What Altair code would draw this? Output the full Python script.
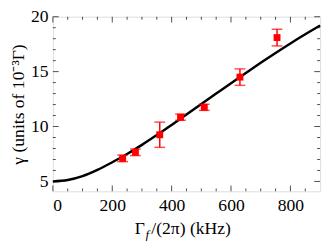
import altair as alt
import pandas as pd

# measured data points
px = [235, 278, 360, 430, 510, 630, 755]
py = [7.1, 7.65, 9.25, 10.85, 11.75, 14.5, 18.1]
perr = [0.3, 0.3, 1.15, 0.28, 0.28, 0.75, 0.76]

# theory curve
cx = [0, 50, 100, 150, 200, 250, 300, 350, 400, 450, 500, 550, 600, 650, 700, 750, 800, 850, 900]
cy = [5.0, 5.13, 5.48, 6.05, 6.75, 7.5, 8.33, 9.22, 10.15, 11.1, 12.05, 13.0, 13.95, 14.88, 15.8, 16.7, 17.57, 18.4, 19.2]

x_major = [0, 200, 400, 600, 800]
x_minor = [v for v in range(50, 900, 50) if v not in x_major]
y_major = [5, 10, 15, 20]
y_minor = [v for v in range(5, 20) if v not in y_major]

y_title = ["γ (units of 10⁻³Γ)"]
x_title_main = ["Γ"]
x_title_sub = ["f"]
x_title_rest = ["/(2π) (kHz)"]

W, H = 274, 179
FONT = "Liberation Serif"

xs = alt.Scale(domain=[0, 900], nice=False, zero=False)
ys = alt.Scale(domain=[4.1, 20], nice=False, zero=False)

pts = pd.DataFrame({"x": px, "y": py, "lo": [a - b for a, b in zip(py, perr)], "hi": [a + b for a, b in zip(py, perr)]})
curve = pd.DataFrame({"x": cx, "y": cy})

xaxis = alt.Axis(values=x_major, ticks=False, domain=False, grid=False, labelFont=FONT, labelFontSize=18,
                 labelColor="black", labelPadding=6, title=None)
yaxis = alt.Axis(values=y_major, ticks=False, domain=False, grid=False, labelFont=FONT, labelFontSize=18,
                 labelColor="black", labelPadding=5, title=None)

line = alt.Chart(curve).mark_line(color="black", strokeWidth=2.5, interpolate="monotone").encode(
    x=alt.X("x:Q", scale=xs, axis=xaxis), y=alt.Y("y:Q", scale=ys, axis=yaxis))

bars = alt.Chart(pts).mark_rule(color="red", strokeWidth=1.5).encode(
    x=alt.X("x:Q", scale=xs), y=alt.Y("lo:Q", scale=ys), y2="hi:Q")
cap_hi = alt.Chart(pts).mark_tick(color="red", thickness=1.5, size=11, orient="horizontal").encode(
    x=alt.X("x:Q", scale=xs), y=alt.Y("hi:Q", scale=ys))
cap_lo = alt.Chart(pts).mark_tick(color="red", thickness=1.5, size=11, orient="horizontal").encode(
    x=alt.X("x:Q", scale=xs), y=alt.Y("lo:Q", scale=ys))
sq = alt.Chart(pts).mark_square(color="red", opacity=1, size=50).encode(
    x=alt.X("x:Q", scale=xs), y=alt.Y("y:Q", scale=ys))

def xticks(vals, L):
    d = pd.DataFrame({"v": vals})
    b = alt.Chart(d).mark_tick(color="black", thickness=1, size=L, orient="vertical").encode(
        x=alt.X("v:Q", scale=xs), y=alt.value(H - L / 2))
    t = alt.Chart(d).mark_tick(color="black", thickness=1, size=L, orient="vertical").encode(
        x=alt.X("v:Q", scale=xs), y=alt.value(L / 2))
    return [b, t]

def yticks(vals, L):
    d = pd.DataFrame({"v": vals})
    l = alt.Chart(d).mark_tick(color="black", thickness=1, size=L, orient="horizontal").encode(
        y=alt.Y("v:Q", scale=ys), x=alt.value(L / 2))
    r = alt.Chart(d).mark_tick(color="black", thickness=1, size=L, orient="horizontal").encode(
        y=alt.Y("v:Q", scale=ys), x=alt.value(W - L / 2))
    return [l, r]

ticks = xticks(x_major, 6) + xticks(x_minor, 3) + yticks(y_major, 6) + yticks(y_minor, 3)

yt = alt.Chart(pd.DataFrame({"t": y_title})).mark_text(font=FONT, fontSize=18, angle=270, align="center",
                                                         baseline="middle", color="black").encode(
    text="t:N", x=alt.value(-35), y=alt.value(90))
xt1 = alt.Chart(pd.DataFrame({"t": x_title_main})).mark_text(font=FONT, fontSize=18, align="left",
                                                              baseline="alphabetic", color="black").encode(
    text="t:N", x=alt.value(84), y=alt.value(223))
xt2 = alt.Chart(pd.DataFrame({"t": x_title_sub})).mark_text(font=FONT, fontSize=13, fontStyle="italic", align="left",
                                                             baseline="alphabetic", color="black").encode(
    text="t:N", x=alt.value(95), y=alt.value(228))
xt3 = alt.Chart(pd.DataFrame({"t": x_title_rest})).mark_text(font=FONT, fontSize=18, align="left",
                                                              baseline="alphabetic", color="black").encode(
    text="t:N", x=alt.value(101), y=alt.value(223))

chart = alt.layer(line, *ticks, bars, cap_hi, cap_lo, sq, yt, xt1, xt2, xt3).properties(
    width=W, height=H,
    autosize=alt.AutoSizeParams(type="none"),
    padding={"left": 46, "top": 6, "right": 4, "bottom": 48},
).configure_view(stroke="black", strokeWidth=1).configure(background="white")

chart.save("out.html", embed_options={"renderer": "svg", "actions": False})
